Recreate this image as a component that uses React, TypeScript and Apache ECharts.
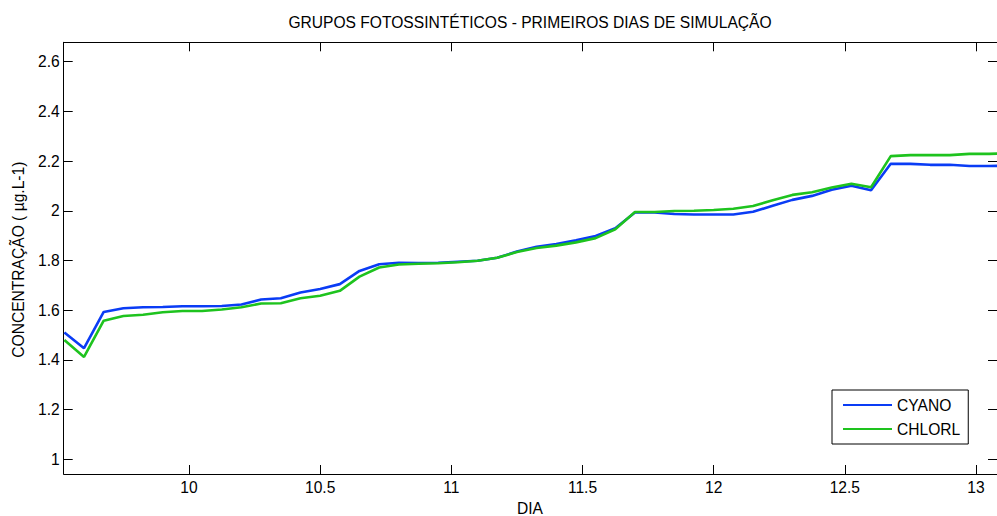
import React, { useEffect, useRef } from "react";
import * as echarts from "echarts";

const days = [
  9.525, 9.6, 9.675, 9.75, 9.825, 9.9, 9.975, 10.05, 10.125, 10.2, 10.275, 10.35,
  10.425, 10.5, 10.575, 10.65, 10.725, 10.8, 10.875, 10.95, 11.025, 11.1, 11.175,
  11.25, 11.325, 11.4, 11.475, 11.55, 11.625, 11.7, 11.775, 11.85, 11.925, 12.0,
  12.075, 12.15, 12.225, 12.3, 12.375, 12.45, 12.525, 12.6, 12.675, 12.75, 12.825,
  12.9, 12.975, 13.05, 13.125,
];

const cyano = [
  1.51, 1.447, 1.593, 1.608, 1.612, 1.613, 1.616, 1.616, 1.617, 1.623, 1.643, 1.648,
  1.671, 1.685, 1.705, 1.758, 1.785, 1.791, 1.79, 1.791, 1.795, 1.799, 1.811, 1.836,
  1.855, 1.866, 1.881, 1.899, 1.93, 1.993, 1.993, 1.987, 1.985, 1.985, 1.985, 1.996,
  2.02, 2.044, 2.06, 2.085, 2.101, 2.083, 2.189, 2.189, 2.185, 2.185, 2.18, 2.18,
  2.182,
];

const chlorl = [
  1.48, 1.412, 1.558, 1.577, 1.582, 1.592, 1.597, 1.597, 1.603, 1.612, 1.627, 1.628,
  1.648, 1.658, 1.678, 1.735, 1.772, 1.784, 1.787, 1.789, 1.793, 1.799, 1.811, 1.834,
  1.85, 1.86, 1.873, 1.89, 1.926, 1.995, 1.995, 1.999, 2.0, 2.003, 2.008, 2.019,
  2.042, 2.064, 2.075, 2.094, 2.109, 2.095, 2.22, 2.224, 2.224, 2.224, 2.229, 2.229,
  2.232,
];

const seriesNames = ["CYANO", "CHLORL"];
const seriesColors = ["#0a3cf5", "#1ec31e"];
const title = "GRUPOS FOTOSSINTÉTICOS - PRIMEIROS DIAS DE SIMULAÇÃO";
const xTitle = "DIA";
const yTitle = "CONCENTRAÇÃO ( µg.L-1)";

const FONT = "Liberation Sans, Arial, sans-serif";
const FS = 15.6;

export default function App() {
  const ref = useRef<HTMLDivElement>(null);
  useEffect(() => {
    if (!ref.current) return;
    const chart = echarts.init(ref.current, undefined, { renderer: "svg" });
    const axisCommon = {
      type: "value" as const,
      splitLine: { show: false },
      axisLine: { show: true, lineStyle: { color: "#000", width: 1 } },
      axisTick: { show: true, inside: true, length: 9, lineStyle: { color: "#000", width: 1 } },
    };
    const xRange = { min: 9.5225, max: 13.08, minInterval: 0.5, maxInterval: 0.5 };
    const yRange = { min: 0.941, max: 2.678, minInterval: 0.2, maxInterval: 0.2 };
    const labelStyle = { color: "#000", fontSize: FS, fontFamily: FONT };
    const lineIcon = "path://M0,0 L49,0 L49,2.2 L0,2.2 Z";
    chart.setOption({
      animation: false,
      backgroundColor: "#fff",
      grid: { left: 63.7, top: 42.3, width: 936, height: 431.7, containLabel: false },
      xAxis: [
        {
          ...axisCommon,
          ...xRange,
          position: "bottom",
          axisLabel: { ...labelStyle, margin: 5, showMinLabel: false, showMaxLabel: false },
        },
        {
          ...axisCommon,
          ...xRange,
          position: "top",
          axisLabel: { show: false },
        },
      ],
      yAxis: [
        {
          ...axisCommon,
          ...yRange,
          position: "left",
          axisLabel: { ...labelStyle, margin: 4, showMinLabel: false, showMaxLabel: false },
        },
        {
          ...axisCommon,
          ...yRange,
          position: "right",
          axisLabel: { show: false },
        },
      ],
      legend: {
        orient: "vertical",
        left: 832,
        top: 390,
        padding: [7, 8, 7, 11],
        itemGap: 8,
        itemWidth: 49,
        itemHeight: 14,
        backgroundColor: "#fff",
        borderColor: "#000",
        borderWidth: 1,
        borderRadius: 0,
        textStyle: { ...labelStyle },
        data: seriesNames.map((name) => ({ name, icon: lineIcon })),
      },
      graphic: [
        {
          type: "text",
          x: 530,
          y: 22,
          style: {
            text: title,
            fill: "#000",
            font: `${FS}px ${FONT}`,
            textAlign: "center",
            textVerticalAlign: "middle",
          },
        },
        {
          type: "text",
          x: 530,
          y: 508,
          style: {
            text: xTitle,
            fill: "#000",
            font: `${FS}px ${FONT}`,
            textAlign: "center",
            textVerticalAlign: "middle",
          },
        },
        {
          type: "text",
          x: 18.5,
          y: 259.7,
          rotation: Math.PI / 2,
          style: {
            text: yTitle,
            fill: "#000",
            font: `${FS}px ${FONT}`,
            textAlign: "center",
            textVerticalAlign: "middle",
          },
        },
      ],
      series: [
        {
          name: seriesNames[0],
          type: "line",
          symbol: "none",
          showSymbol: false,
          clip: true,
          lineStyle: { color: seriesColors[0], width: 2.6 },
          itemStyle: { color: seriesColors[0] },
          data: days.map((d, i) => [d, cyano[i]]),
        },
        {
          name: seriesNames[1],
          type: "line",
          symbol: "none",
          showSymbol: false,
          clip: true,
          lineStyle: { color: seriesColors[1], width: 2.6 },
          itemStyle: { color: seriesColors[1] },
          data: days.map((d, i) => [d, chlorl[i]]),
        },
      ],
    });
    return () => chart.dispose();
  }, []);
  return (
    <div
      ref={ref}
      style={{ position: "absolute", left: 0, top: 0, width: 997, height: 516 }}
    />
  );
}
